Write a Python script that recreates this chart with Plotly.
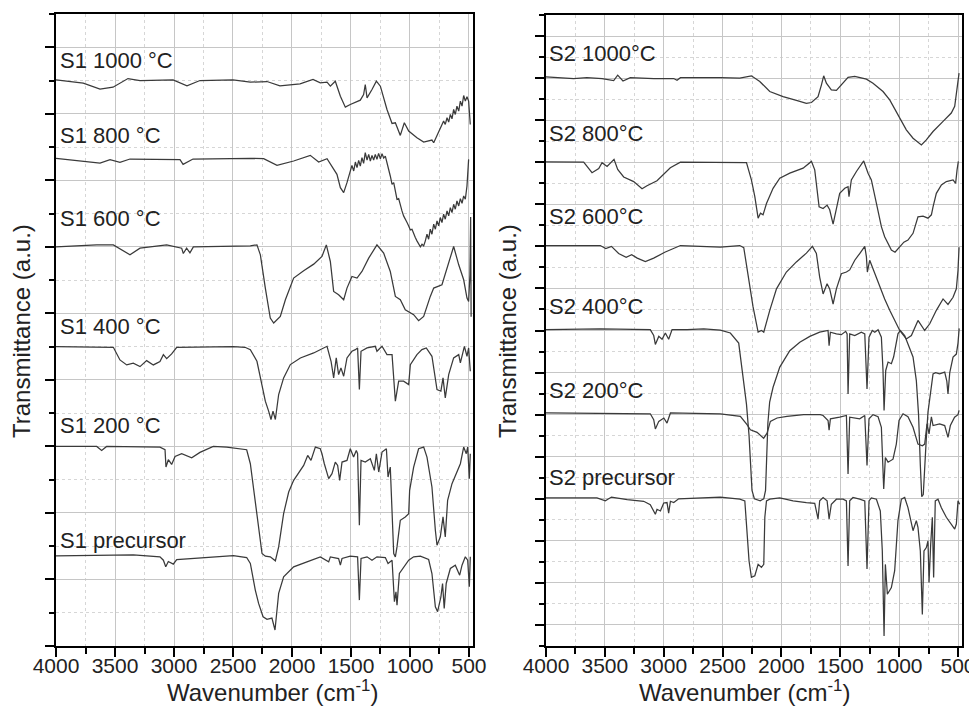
import plotly.graph_objects as go

# ---------------- data (wavenumber cm-1, transmittance a.u. offset) ----------------
s1_1000 = [(4000, 8.51), (3769, 8.46), (3627, 8.37), (3517, 8.40), (3390, 8.53), (3288, 8.50),
           (3008, 8.51), (2890, 8.42), (2780, 8.50), (2500, 8.51), (2353, 8.475), (2212, 8.485),
           (2102, 8.42), (1932, 8.45), (1822, 8.515), (1760, 8.465), (1703, 8.475), (1675, 8.415),
           (1633, 8.49), (1590, 8.265), (1548, 8.10), (1506, 8.14), (1421, 8.205), (1393, 8.29),
           (1379, 8.44), (1364, 8.24), (1322, 8.365), (1285, 8.49), (1251, 8.415), (1195, 8.065),
           (1152, 7.855), (1124, 7.865), (1082, 7.675), (1048, 7.865), (1011, 7.74), (941, 7.64),
           (884, 7.575), (814, 7.605), (799, 7.565), (729, 7.84), (715, 7.89), (701, 7.84),
           (686, 7.94), (672, 7.875), (658, 7.99), (644, 7.925), (630, 8.065), (616, 7.99),
           (602, 8.115), (587, 8.04), (573, 8.19), (559, 8.115), (545, 8.275), (531, 8.19),
           (517, 8.255), (503, 8.19), (489, 7.84)]

s1_800 = [(4000, 7.33), (3740, 7.28), (3627, 7.26), (3542, 7.31), (3458, 7.27), (3373, 7.32),
          (3203, 7.32), (2949, 7.31), (2923, 7.24), (2839, 7.32), (2353, 7.33), (2240, 7.325),
          (2127, 7.225), (1986, 7.29), (1845, 7.375), (1774, 7.275), (1703, 7.325), (1661, 7.205),
          (1619, 7.09), (1590, 6.89), (1562, 6.815), (1534, 6.965), (1506, 7.115), (1492, 7.225),
          (1477, 7.14), (1463, 7.275), (1449, 7.19), (1435, 7.30), (1421, 7.215), (1407, 7.34),
          (1393, 7.255), (1379, 7.415), (1364, 7.305), (1350, 7.39), (1336, 7.29), (1322, 7.375),
          (1308, 7.305), (1294, 7.39), (1280, 7.315), (1266, 7.405), (1251, 7.325), (1237, 7.40),
          (1223, 7.335), (1209, 7.365), (1167, 7.065), (1152, 6.94), (1138, 6.965), (1124, 6.815),
          (1110, 6.715), (1096, 6.725), (1082, 6.615), (1068, 6.54), (1054, 6.465), (1040, 6.425),
          (1025, 6.365), (1011, 6.315), (997, 6.255), (983, 6.265), (969, 6.19), (955, 6.14),
          (941, 6.09), (927, 6.04), (912, 6.00), (898, 6.04), (884, 6.015), (870, 6.09),
          (856, 6.19), (842, 6.115), (828, 6.265), (814, 6.19), (799, 6.34), (785, 6.265),
          (771, 6.39), (757, 6.315), (743, 6.44), (729, 6.365), (715, 6.49), (701, 6.415),
          (686, 6.54), (672, 6.465), (658, 6.59), (644, 6.515), (630, 6.64), (616, 6.565),
          (602, 6.69), (587, 6.615), (573, 6.725), (559, 6.655), (545, 6.765), (531, 6.715),
          (517, 6.915), (503, 7.315)]

s1_600 = [(4000, 6.00), (3655, 6.03), (3514, 6.03), (3373, 5.88), (3288, 5.98), (3062, 6.03),
          (2935, 5.98), (2921, 5.90), (2893, 5.98), (2865, 5.91), (2836, 6.00), (2497, 6.01),
          (2353, 6.015), (2297, 6.03), (2268, 5.88), (2226, 5.38), (2184, 4.93), (2155, 4.855),
          (2099, 4.955), (2056, 5.205), (1986, 5.53), (1901, 5.64), (1816, 5.74), (1746, 5.855),
          (1709, 6.03), (1675, 5.78), (1647, 5.33), (1605, 5.28), (1562, 5.205), (1534, 5.38),
          (1492, 5.555), (1449, 5.53), (1407, 5.63), (1350, 5.83), (1280, 6.03), (1223, 5.905),
          (1167, 5.63), (1124, 5.255), (1082, 5.205), (1040, 5.055), (969, 4.98), (927, 4.89),
          (884, 4.955), (828, 5.255), (799, 5.38), (729, 5.43), (686, 5.68), (630, 6.005),
          (587, 5.73), (545, 5.505), (517, 5.23), (503, 5.18), (492, 5.58), (486, 6.45),
          (482, 4.95)]

s1_400 = [(4000, 4.50), (3514, 4.49), (3458, 4.30), (3401, 4.225), (3345, 4.25), (3288, 4.20),
          (3232, 4.29), (3175, 4.225), (3119, 4.275), (3090, 4.38), (3062, 4.32), (3020, 4.39),
          (2977, 4.49), (2497, 4.50), (2398, 4.49), (2353, 4.455), (2297, 4.28), (2254, 3.93),
          (2226, 3.68), (2198, 3.53), (2178, 3.405), (2161, 3.53), (2141, 3.405), (2113, 3.78),
          (2071, 4.03), (2014, 4.23), (1929, 4.33), (1816, 4.405), (1703, 4.505), (1669, 4.28),
          (1647, 4.03), (1625, 4.33), (1605, 4.08), (1585, 4.18), (1562, 4.055), (1534, 4.33),
          (1492, 4.43), (1463, 4.455), (1444, 4.48), (1429, 3.855), (1415, 4.43), (1364, 4.48),
          (1294, 4.505), (1280, 4.43), (1237, 4.505), (1195, 4.38), (1152, 4.38), (1124, 3.68),
          (1096, 3.98), (1054, 3.98), (1011, 3.93), (997, 4.23), (941, 4.38), (899, 4.455),
          (862, 4.48), (814, 4.355), (771, 3.855), (738, 3.83), (720, 4.03), (701, 3.73),
          (672, 4.08), (630, 4.33), (587, 4.38), (573, 4.255), (539, 4.505), (517, 4.355),
          (503, 4.48), (489, 4.13)]

s1_200 = [(4000, 3.00), (3655, 3.00), (3613, 2.94), (3571, 3.00), (3119, 2.99), (3076, 2.95),
          (3068, 2.69), (3048, 2.80), (3020, 2.73), (2991, 2.85), (2935, 2.89), (2850, 2.83),
          (2780, 2.91), (2667, 3.00), (2554, 2.99), (2384, 2.95), (2353, 2.74), (2311, 2.14),
          (2283, 1.74), (2254, 1.39), (2226, 1.35), (2184, 1.34), (2141, 1.28), (2113, 1.49),
          (2071, 1.99), (2028, 2.315), (1986, 2.49), (1929, 2.65), (1901, 2.715), (1867, 2.865),
          (1839, 2.79), (1802, 2.99), (1760, 2.965), (1746, 2.89), (1726, 2.74), (1689, 2.515),
          (1661, 2.59), (1633, 2.765), (1613, 2.715), (1596, 2.49), (1576, 2.765), (1534, 2.79),
          (1506, 2.965), (1478, 2.84), (1455, 2.94), (1444, 2.89), (1429, 1.815), (1415, 2.79),
          (1379, 2.765), (1336, 2.815), (1302, 2.64), (1285, 2.89), (1265, 2.615), (1237, 2.915),
          (1200, 2.965), (1186, 2.54), (1167, 2.69), (1138, 1.39), (1124, 1.34), (1110, 1.49),
          (1082, 1.89), (1040, 1.94), (1011, 1.99), (1003, 2.34), (969, 2.69), (927, 2.965),
          (884, 2.99), (856, 2.84), (814, 2.39), (785, 1.74), (771, 1.515), (743, 1.64),
          (720, 1.94), (701, 1.64), (681, 2.19), (644, 2.44), (602, 2.615), (573, 2.74),
          (545, 2.99), (523, 2.89), (511, 2.99), (497, 2.515), (489, 2.89)]

s1_pre = [(4000, 1.353), (3345, 1.37), (3119, 1.34), (3090, 1.29), (3070, 1.19), (3048, 1.27),
          (3006, 1.23), (2977, 1.30), (2497, 1.358), (2384, 1.33), (2353, 1.24), (2311, 0.84),
          (2283, 0.64), (2245, 0.44), (2212, 0.40), (2170, 0.42), (2144, 0.24), (2113, 0.79),
          (2071, 1.04), (1986, 1.19), (1873, 1.265), (1760, 1.34), (1689, 1.265), (1675, 1.34),
          (1605, 1.315), (1590, 1.215), (1576, 1.315), (1506, 1.35), (1444, 1.34), (1429, 0.69),
          (1415, 1.315), (1364, 1.34), (1322, 1.29), (1280, 1.34), (1209, 1.33), (1186, 1.24),
          (1152, 1.29), (1132, 0.665), (1119, 0.815), (1110, 0.615), (1090, 1.09), (1054, 1.19),
          (1011, 1.29), (969, 1.34), (912, 1.35), (842, 1.30), (814, 1.09), (785, 0.59),
          (766, 0.515), (738, 0.74), (724, 0.94), (710, 0.565), (693, 0.94), (658, 1.165),
          (616, 1.215), (579, 1.065), (559, 1.215), (531, 1.34), (511, 1.29), (497, 0.89),
          (489, 1.34)]

s2_1000 = [(4000, 13.53), (3765, 13.49), (3652, 13.51), (3524, 13.49), (3425, 13.44), (3391, 13.57),
           (3346, 13.43), (3284, 13.51), (3085, 13.49), (2915, 13.49), (2887, 13.45), (2858, 13.51),
           (2519, 13.51), (2354, 13.50), (2255, 13.555), (2184, 13.42), (2099, 13.18), (1986, 13.06),
           (1873, 12.97), (1788, 12.90), (1745, 12.92), (1689, 13.06), (1660, 13.34), (1641, 13.555),
           (1618, 13.38), (1576, 13.22), (1533, 13.21), (1491, 13.34), (1434, 13.52), (1377, 13.54),
           (1278, 13.475), (1222, 13.38), (1137, 13.18), (1080, 12.98), (995, 12.55), (939, 12.27),
           (882, 12.07), (811, 11.91), (769, 12.03), (712, 12.23), (627, 12.47), (557, 12.67),
           (528, 12.83), (514, 13.14), (500, 13.50), (491, 13.62)]

s2_800 = [(4000, 11.51), (3680, 11.50), (3609, 11.25), (3552, 11.35), (3524, 11.49), (3481, 11.40),
          (3422, 11.57), (3391, 11.33), (3340, 11.15), (3255, 11.04), (3184, 10.87), (3142, 10.94),
          (3057, 11.06), (2944, 11.37), (2858, 11.50), (2354, 11.50), (2297, 11.49), (2255, 11.08),
          (2226, 10.68), (2198, 10.17), (2178, 10.29), (2156, 10.25), (2127, 10.52), (2071, 10.88),
          (2014, 11.12), (1929, 11.24), (1816, 11.36), (1745, 11.52), (1717, 11.32), (1680, 10.44),
          (1646, 10.40), (1612, 10.48), (1590, 10.37), (1561, 10.03), (1533, 10.44), (1505, 10.76),
          (1462, 10.88), (1434, 10.92), (1426, 10.68), (1406, 11.08), (1363, 11.28), (1301, 11.53),
          (1264, 11.24), (1236, 11.08), (1193, 10.52), (1151, 9.97), (1123, 9.73), (1094, 9.57),
          (1066, 9.41), (1035, 9.36), (995, 9.50), (960, 9.60), (925, 9.65), (882, 9.81),
          (840, 10.20), (797, 10.22), (755, 10.17), (726, 10.25), (712, 10.44), (684, 10.76),
          (641, 10.96), (599, 11.04), (542, 11.08), (520, 11.00), (508, 11.32), (497, 11.52)]

s2_600 = [(4000, 9.52), (3539, 9.52), (3492, 9.45), (3444, 9.50), (3383, 9.33), (3319, 9.24),
          (3272, 9.30), (3225, 9.22), (3156, 9.14), (3085, 9.22), (2991, 9.36), (2920, 9.45),
          (2858, 9.52), (2519, 9.48), (2354, 9.52), (2320, 9.47), (2283, 8.85), (2241, 8.06),
          (2198, 7.46), (2170, 7.50), (2150, 7.46), (2099, 7.98), (2042, 8.49), (1958, 8.89),
          (1873, 9.13), (1788, 9.34), (1737, 9.50), (1703, 9.33), (1675, 8.77), (1646, 8.37),
          (1612, 8.61), (1590, 8.49), (1561, 8.13), (1533, 8.49), (1491, 8.85), (1448, 8.89),
          (1420, 8.94), (1377, 9.17), (1335, 9.33), (1292, 9.50), (1278, 9.25), (1270, 8.89),
          (1250, 9.17), (1207, 8.85), (1165, 8.53), (1123, 8.25), (1080, 7.98), (1038, 7.74),
          (995, 7.50), (939, 7.30), (896, 7.38), (840, 7.74), (783, 7.50), (740, 7.66),
          (684, 7.98), (627, 8.25), (585, 8.12), (542, 8.29), (514, 8.49), (500, 8.93), (491, 9.48)]

s2_400 = [(4000, 7.52), (3539, 7.54), (3114, 7.52), (3085, 7.38), (3071, 7.17), (3042, 7.36),
          (3014, 7.29), (2986, 7.44), (2958, 7.29), (2929, 7.52), (2802, 7.52), (2660, 7.54),
          (2519, 7.51), (2434, 7.44), (2363, 7.20), (2326, 6.39), (2297, 5.75), (2275, 5.00),
          (2260, 4.20), (2250, 3.70), (2230, 3.50), (2180, 3.45), (2150, 3.50), (2135, 3.70),
          (2125, 4.50), (2115, 5.30), (2100, 5.80), (2071, 6.15), (2014, 6.63), (1929, 7.02),
          (1844, 7.22), (1759, 7.36), (1675, 7.46), (1604, 7.50), (1595, 7.14), (1584, 7.46),
          (1533, 7.42), (1491, 7.40), (1454, 7.48), (1442, 7.42), (1434, 5.99), (1420, 7.42),
          (1377, 7.38), (1321, 7.46), (1292, 7.42), (1273, 6.11), (1256, 7.34), (1228, 7.50),
          (1207, 7.46), (1179, 7.52), (1151, 7.34), (1137, 6.55), (1128, 5.60), (1114, 6.55),
          (1094, 6.75), (1066, 6.71), (1047, 6.87), (1024, 7.18), (1010, 7.42), (990, 7.50),
          (953, 7.38), (925, 7.18), (882, 6.87), (854, 6.31), (835, 5.50), (820, 4.30),
          (808, 3.55), (795, 3.60), (783, 4.30), (770, 4.90), (755, 5.56), (740, 5.90),
          (725, 6.20), (712, 6.47), (690, 6.50), (656, 6.47), (613, 6.51), (595, 6.30),
          (585, 5.99), (570, 6.50), (542, 6.87), (514, 6.94), (500, 7.20), (490, 7.55)]

s2_200 = [(4000, 5.54), (3114, 5.52), (3085, 5.38), (3071, 5.16), (3042, 5.34), (2999, 5.42),
          (2972, 5.30), (2943, 5.54), (2519, 5.52), (2349, 5.46), (2292, 5.26), (2264, 5.14),
          (2207, 5.08), (2151, 4.94), (2122, 5.06), (2094, 5.34), (2037, 5.42), (1953, 5.46),
          (1811, 5.50), (1670, 5.50), (1646, 5.48), (1604, 5.36), (1595, 5.13), (1584, 5.40),
          (1505, 5.44), (1448, 5.48), (1434, 4.09), (1420, 5.44), (1335, 5.40), (1292, 5.48),
          (1273, 4.29), (1256, 5.40), (1222, 5.50), (1179, 5.45), (1151, 5.20), (1131, 3.73),
          (1117, 4.48), (1094, 4.37), (1052, 4.44), (1024, 4.80), (1001, 5.36), (967, 5.52),
          (925, 5.45), (882, 5.20), (840, 4.80), (803, 4.76), (783, 4.80), (763, 5.28),
          (746, 5.04), (726, 5.45), (712, 5.24), (656, 5.28), (613, 5.24), (585, 4.96),
          (565, 5.24), (529, 5.44), (500, 5.50), (491, 5.60)]

s2_pre = [(4000, 3.52), (3567, 3.52), (3496, 3.45), (3444, 3.54), (3310, 3.48), (3170, 3.44),
          (3114, 3.36), (3071, 3.13), (3057, 3.25), (3028, 3.21), (3000, 3.40), (2972, 3.41),
          (2958, 3.16), (2943, 3.44), (2915, 3.41), (2873, 3.50), (2519, 3.54), (2354, 3.49),
          (2311, 3.45), (2292, 2.66), (2275, 2.02), (2255, 1.63), (2226, 1.67), (2198, 1.94),
          (2170, 1.87), (2150, 1.94), (2141, 3.06), (2127, 3.45), (2099, 3.49), (2014, 3.52),
          (1901, 3.45), (1788, 3.41), (1717, 3.39), (1689, 3.02), (1675, 3.45), (1646, 3.53),
          (1612, 3.45), (1595, 3.02), (1576, 3.37), (1533, 3.49), (1476, 3.49), (1448, 3.45),
          (1434, 1.90), (1420, 3.45), (1392, 3.53), (1335, 3.49), (1292, 3.45), (1273, 1.83),
          (1256, 3.45), (1236, 3.52), (1193, 3.49), (1160, 3.21), (1143, 2.26), (1128, 0.24),
          (1117, 1.94), (1100, 1.23), (1066, 1.39), (1038, 1.79), (1010, 2.98), (981, 3.49),
          (953, 3.53), (925, 3.29), (896, 2.90), (882, 2.74), (854, 2.98), (840, 2.82),
          (820, 2.26), (803, 0.75), (789, 2.26), (769, 2.34), (755, 2.50), (746, 1.51),
          (732, 2.42), (718, 3.06), (707, 1.63), (693, 3.45), (670, 3.49), (642, 3.29),
          (599, 3.06), (557, 2.90), (528, 2.78), (514, 2.90), (500, 3.45), (486, 3.37)]

left_series = [s1_1000, s1_800, s1_600, s1_400, s1_200, s1_pre]
left_labels = ["S1 1000 °C", "S1 800 °C", "S1 600 °C", "S1 400 °C", "S1 200 °C", "S1 precursor"]
left_label_y = [8.80, 7.67, 6.42, 4.81, 3.32, 1.59]

right_series = [s2_1000, s2_800, s2_600, s2_400, s2_200, s2_pre]
right_labels = ["S2 1000°C", "S2 800°C", "S2 600°C", "S2 400°C", "S2 200°C", "S2 precursor"]
right_label_y = [14.08, 12.18, 10.20, 8.06, 6.08, 4.01]

x_tick_vals = [4000, 3500, 3000, 2500, 2000, 1500, 1000, 500]

# ---------------- figure ----------------
FONT = "Liberation Sans, Arial, Helvetica, sans-serif"
LINE = "#3a3a3a"

fig = go.Figure()
for s in left_series:
    fig.add_trace(go.Scatter(x=[p[0] for p in s], y=[p[1] for p in s], mode="lines",
                             line=dict(color=LINE, width=1.25), xaxis="x", yaxis="y",
                             showlegend=False, hoverinfo="skip"))
for s in right_series:
    fig.add_trace(go.Scatter(x=[p[0] for p in s], y=[p[1] for p in s], mode="lines",
                             line=dict(color=LINE, width=1.25), xaxis="x2", yaxis="y2",
                             showlegend=False, hoverinfo="skip"))

# the page body adds an 8 px offset, so the figure is drawn 8 px smaller and shifted
OFF = 8
W, H = 977 - OFF, 712 - OFF

def px(x):
    return (x - OFF) / W

def py(y):
    return 1 - (y - OFF) / H

def xaxis_cfg(domain):
    return dict(domain=domain, range=[4000, 466], tickmode="array", tickvals=x_tick_vals,
                automargin=False, ticklabelstandoff=-9,
                ticks="outside", ticklen=9, tickwidth=1.5, tickcolor="black",
                showline=True, linecolor="black", linewidth=2, mirror=True,
                showgrid=True, gridcolor="#c6c6c6", gridwidth=1.2, zeroline=False,
                tickfont=dict(family=FONT, size=21, color="#222"),
                minor=dict(dtick=250, tick0=250, ticks="outside", ticklen=6, tickwidth=1.5,
                           tickcolor="black", showgrid=True, gridcolor="#d6d6d6",
                           griddash="dot", gridwidth=1))

def yaxis_cfg(domain, rng, tick0, anchor):
    return dict(domain=domain, range=rng, anchor=anchor, tick0=tick0, dtick=1,
                automargin=False,
                ticks="outside", ticklen=9, tickwidth=1.5, tickcolor="black",
                showticklabels=False, showline=True, linecolor="black", linewidth=2,
                mirror=True, showgrid=True, gridcolor="#c6c6c6", gridwidth=1.2, zeroline=False,
                minor=dict(dtick=0.5, tick0=tick0 + 0.5, ticks="outside", ticklen=5,
                           tickwidth=1.5, tickcolor="black", showgrid=True,
                           gridcolor="#d6d6d6", griddash="dot", gridwidth=1))

fig.update_layout(
    width=W, height=H, margin=dict(l=0, r=0, t=0, b=0, autoexpand=False),
    paper_bgcolor="white", plot_bgcolor="white",
    xaxis=dict(xaxis_cfg([px(56), px(473)]), anchor="y"),
    yaxis=yaxis_cfg([py(646), py(14)], [0, 9.5], 0, "x"),
    xaxis2=dict(xaxis_cfg([px(546), px(962)]), anchor="y2"),
    yaxis2=yaxis_cfg([py(646), py(15)], [0, 15], 0.5, "x2"),
)

ann = []
for txt, yv in zip(left_labels, left_label_y):
    ann.append(dict(text=txt, x=3985, y=yv, xref="x", yref="y", xanchor="left",
                    yanchor="middle", showarrow=False, font=dict(family=FONT, size=22, color="#222")))
for txt, yv in zip(right_labels, right_label_y):
    ann.append(dict(text=txt, x=3990, y=yv, xref="x2", yref="y2", xanchor="left",
                    yanchor="middle", showarrow=False, font=dict(family=FONT, size=22, color="#222")))
for xc in (22, 508):
    ann.append(dict(text="Transmittance (a.u.)", x=px(xc), y=py(331), xref="paper", yref="paper",
                    textangle=-90, showarrow=False, xanchor="center", yanchor="middle",
                    font=dict(family=FONT, size=24, color="#222")))
for xc in (272, 744):
    ann.append(dict(text="Wavenumber (cm<sup>-1</sup>)", x=px(xc), y=py(691), xref="paper",
                    yref="paper", showarrow=False, xanchor="center", yanchor="middle",
                    font=dict(family=FONT, size=24, color="#222")))
fig.update_layout(annotations=ann)

fig.write_html("out.html")
